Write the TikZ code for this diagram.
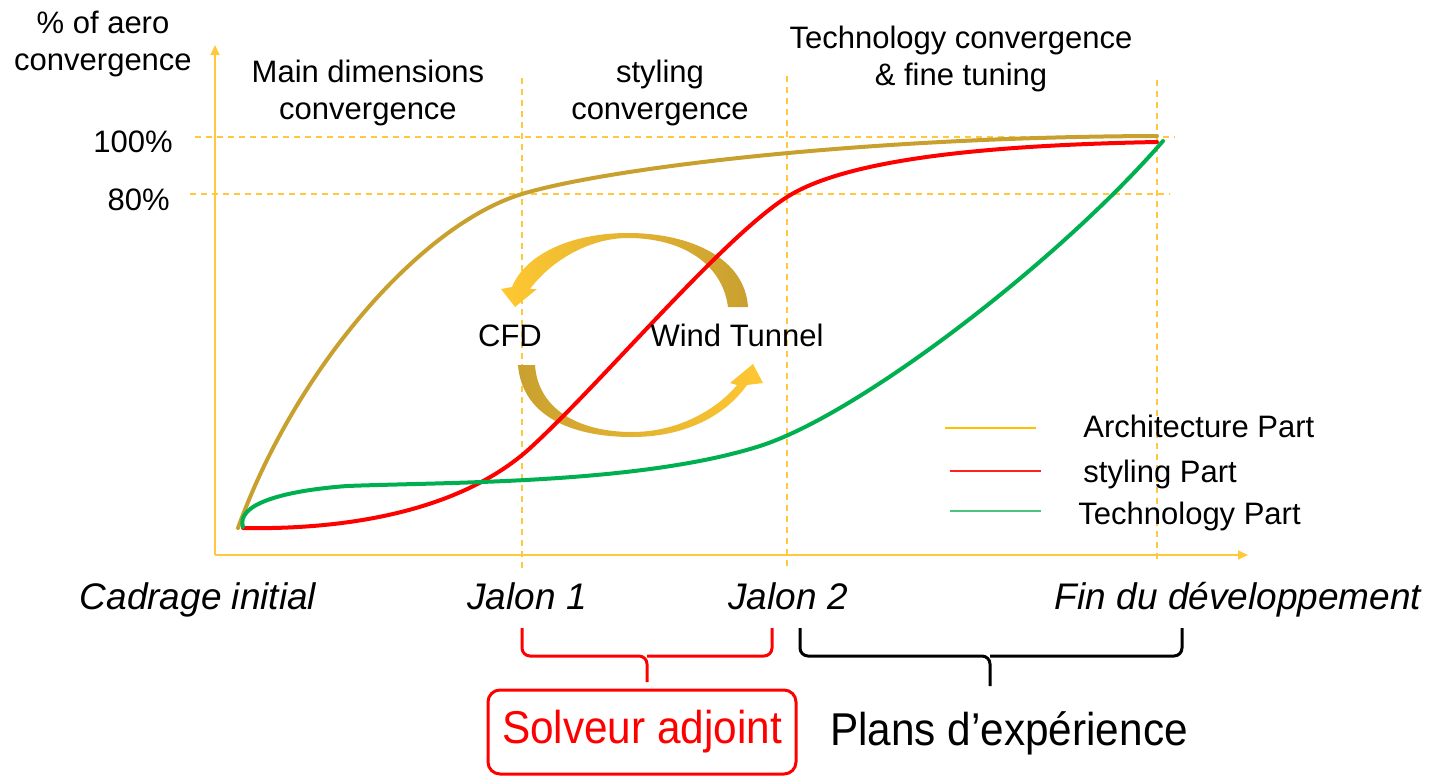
\documentclass[tikz,border=0pt]{standalone}
\usepackage{fontspec}
\setmainfont{Liberation Sans}
\newfontfamily\narrowfont[FakeStretch=0.92]{Liberation Sans}
\usetikzlibrary{arrows.meta}
\definecolor{axisyellow}{HTML}{FFC83D}
\definecolor{gold}{HTML}{C8A02E}
\definecolor{stylred}{HTML}{FF0000}
\definecolor{techgreen}{HTML}{00B050}
\definecolor{legyellow}{HTML}{FFC000}
\definecolor{legred}{HTML}{FF2020}
\definecolor{leggreen}{HTML}{4CC47C}
\definecolor{arrowyellow}{HTML}{FFC832}
\definecolor{arrowgold}{HTML}{C9A030}
\begin{document}
\begin{tikzpicture}[x=0.5pt,y=-0.5pt,
  axisline/.style={draw=axisyellow, line width=1pt, -{Triangle[length=5pt,width=4.5pt]}},
  guide/.style={draw=axisyellow, line width=0.6pt, dash pattern=on 3pt off 2.5pt},
  curve/.style={line width=2pt, line join=round, line cap=round},
  legline/.style={line width=1pt},
  hdr/.style={font=\fontsize{15.5}{18.5}\selectfont, align=center, inner sep=0pt, anchor=north},
  pct/.style={font=\fontsize{15.5}{18.5}\selectfont, inner sep=0pt, anchor=base east},
  mile/.style={font=\fontsize{18.5}{22}\selectfont\itshape, anchor=base, inner sep=0pt},
  leg/.style={font=\fontsize{15.5}{18.5}\selectfont, anchor=base west, inner sep=0pt},
  cyc/.style={font=\fontsize{15.5}{18.5}\selectfont, anchor=base, inner sep=0pt},
  bigtxt/.style={font=\narrowfont\fontsize{23}{27}\selectfont},
  bracestyle/.style={line width=1.5pt, line join=round, rounded corners=4pt},
]
\path[use as bounding box] (0,0) rectangle (1430,777);

% guides
\draw[guide] (195,137) -- (1175,137);
\draw[guide] (190,194) -- (1170,194);
\draw[guide] (522,78) -- (522,570);
\draw[guide] (787,76) -- (787,570);
\draw[guide] (1157,80) -- (1157,560);

% axes
\coordinate (origin) at (215,555);
\coordinate (ytip) at (215,45);
\coordinate (xtip) at (1248,555);
\draw[axisline] (origin) -- (ytip);
\draw[axisline] (origin) -- (xtip);

% cycle arrows
\shade[left color=arrowyellow, right color=arrowgold]
  (748,307) .. controls (745,258) and (690,233) .. (628,233)
  .. controls (570,233) and (525,255) .. (512,287)
  -- (501,289) -- (515,307) -- (537,289) -- (530,289)
  .. controls (550,262) and (588,238) .. (628,238)
  .. controls (680,238) and (722,262) .. (728,307) -- cycle;
\shade[left color=arrowgold, right color=arrowyellow]
  (518,365) .. controls (522,415) and (570,437) .. (632,437)
  .. controls (690,437) and (728,412) .. (747,385)
  -- (763,383) -- (753,364) -- (730,383) -- (737,385)
  .. controls (718,408) and (680,432) .. (632,432)
  .. controls (580,432) and (538,410) .. (535,365) -- cycle;

% curves
\coordinate (ga) at (238,528); \coordinate (gb) at (522,194); \coordinate (gc) at (1157,136);
\draw[curve, gold] (ga) .. controls (295,370) and (420,225) .. (gb)
  .. controls (600,170) and (850,137) .. (gc);
\coordinate (ra) at (243,528); \coordinate (rb) at (528,450); \coordinate (rc) at (787,197); \coordinate (rd) at (1157,142);
\draw[curve, stylred] (ra) .. controls (350,530) and (460,510) .. (rb)
  .. controls (600,385) and (720,240) .. (rc)
  .. controls (850,157) and (1000,145) .. (rd);
\coordinate (ta) at (243,527); \coordinate (tb) at (347,486); \coordinate (tc) at (760,446); \coordinate (td) at (1163,141);
\draw[curve, techgreen] (ta) .. controls (236,505) and (280,491) .. (tb)
  .. controls (450,482) and (640,484) .. (tc)
  .. controls (860,414) and (1060,260) .. (td);

% header texts
\node[hdr] (yl) at (103,11) {\% of aero\\convergence};
\node[hdr] (h1) at (368,60) {Main dimensions\\convergence};
\node[hdr] (h2) at (660,60) {styling\\convergence};
\node[hdr] (h3) at (961,26) {Technology convergence\\\& fine tuning};
\node[pct] (p100) at (173,152) {100\%};
\node[pct] (p80) at (170,210) {80\%};

% cycle labels
\node[cyc] (cfd) at (510,346) {CFD};
\node[cyc] (wt) at (737,346) {Wind Tunnel};

% legend
\coordinate (la1) at (945,428); \coordinate (la2) at (1036,428);
\coordinate (lb1) at (950,471); \coordinate (lb2) at (1041,471);
\coordinate (lc1) at (950,511); \coordinate (lc2) at (1041,511);
\draw[legline, legyellow] (la1) -- (la2);
\draw[legline, legred] (lb1) -- (lb2);
\draw[legline, leggreen] (lc1) -- (lc2);
\node[leg] (arch) at (1083,437) {Architecture Part};
\node[leg] (styl) at (1083,482) {styling Part};
\node[leg] (tech) at (1078,524) {Technology Part};

% milestones
\node[mile] (m0) at (198,609) {Cadrage initial};
\node[mile] (m1) at (527,609) {Jalon 1};
\node[mile] (m2) at (788,609) {Jalon 2};
\node[mile] (m3) at (1238,609) {Fin du développement};

% braces
\draw[bracestyle, stylred] (522,628) -- (522,656) -- (647,656) -- (647,682);
\draw[bracestyle, stylred] (772,628) -- (772,656) -- (647,656);
\draw[bracestyle, black] (800,628) -- (800,656) -- (990,656) -- (990,686);
\draw[bracestyle, black] (1182,628) -- (1182,656) -- (990,656);

% bottom labels
\node[bigtxt, draw=stylred, text=stylred, line width=1.5pt, rounded corners=6pt,
  minimum width=154pt, minimum height=42pt, inner sep=0pt] (solv) at (642,732) {Solveur adjoint};
\node[bigtxt, anchor=base, inner sep=0pt] (plans) at (1009,745) {Plans d’expérience};
\end{tikzpicture}
\end{document}
